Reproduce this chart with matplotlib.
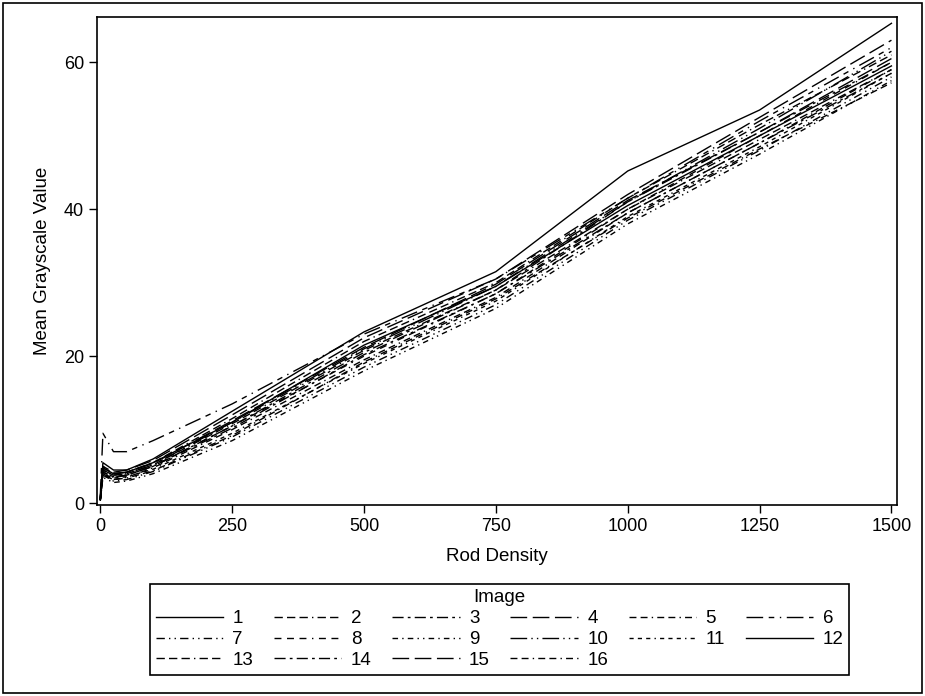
import matplotlib.pyplot as plt
import matplotlib.patches as mpatches

plt.rcParams['font.family'] = ['Liberation Sans', 'DejaVu Sans']

# rod density levels
density = [0, 5, 25, 50, 100, 250, 500, 750, 1000, 1250, 1500]

img1 = [0.5, 5.5, 4.5, 4.5, 6.0, 12.5, 23.3, 31.5, 45.2, 53.5, 65.3]
img2 = [0.8, 5.0, 4.0, 4.2, 5.5, 11.5, 22.0, 30.0, 41.5, 51.5, 61.0]
img3 = [0.5, 4.5, 3.5, 3.8, 5.0, 10.5, 20.5, 29.0, 41.0, 50.5, 60.0]
img4 = [0.6, 5.0, 4.2, 4.5, 5.8, 12.0, 22.5, 30.5, 42.0, 52.5, 63.0]
img5 = [0.4, 4.0, 3.2, 3.5, 4.8, 10.0, 19.5, 28.0, 39.5, 49.0, 59.0]
img6 = [1.0, 9.5, 7.0, 7.0, 8.5, 13.5, 23.0, 30.5, 41.5, 52.0, 62.0]
img7 = [0.4, 3.8, 3.0, 3.2, 4.3, 9.0, 18.5, 27.0, 38.5, 48.0, 58.0]
img8 = [0.5, 4.2, 3.5, 3.8, 5.0, 10.5, 20.0, 28.5, 40.0, 50.0, 60.0]
img9 = [0.3, 3.5, 2.8, 3.0, 4.0, 8.5, 18.0, 26.5, 38.0, 47.5, 57.5]
img10 = [0.5, 4.5, 3.8, 4.0, 5.2, 11.0, 21.0, 29.5, 41.0, 51.0, 61.5]
img11 = [0.4, 4.0, 3.4, 3.6, 4.6, 9.5, 19.0, 27.5, 39.0, 48.5, 58.5]
img12 = [0.5, 4.8, 4.0, 4.2, 5.5, 11.0, 21.5, 29.5, 40.5, 50.0, 59.5]
img13 = [0.5, 4.6, 3.8, 4.0, 5.2, 10.8, 20.8, 29.0, 40.0, 49.5, 59.0]
img14 = [0.4, 4.2, 3.6, 3.8, 5.0, 10.2, 20.2, 28.5, 39.5, 49.0, 58.5]
img15 = [0.5, 4.8, 4.0, 4.2, 5.4, 11.2, 21.2, 29.8, 41.2, 50.5, 60.5]
img16 = [0.4, 3.8, 3.2, 3.4, 4.4, 9.2, 19.2, 27.8, 38.8, 48.2, 57.2]

images = [img1, img2, img3, img4, img5, img6, img7, img8,
          img9, img10, img11, img12, img13, img14, img15, img16]
labels = [str(i) for i in range(1, 17)]

# SAS-like line pattern cycle
styles = ['-',
          (0, (6, 3, 6, 3, 6, 3, 1, 3)),
          (0, (8, 3, 2, 3)),
          (0, (12, 4)),
          (0, (5, 3, 5, 3, 1, 3)),
          (0, (12, 4, 4, 4, 1, 4)),
          (0, (6, 3, 1, 3, 1, 3)),
          (0, (5, 4, 5, 4, 5, 4, 1, 4)),
          (0, (4, 3, 1, 3, 4, 3, 1, 3, 1, 3)),
          (0, (12, 3, 1, 3, 1, 3)),
          (0, (3, 3, 3, 3, 3, 3, 1, 3)),
          '-',
          (0, (6, 3, 6, 3, 6, 3, 1, 3)),
          (0, (8, 3, 2, 3)),
          (0, (12, 4)),
          (0, (5, 3, 5, 3, 1, 3))]

fig = plt.figure(figsize=(9.25, 6.96), dpi=100)
ax = fig.add_axes([0.105, 0.274, 0.865, 0.702])

handles = []
for vals, lab, ls in zip(images, labels, styles):
    h, = ax.plot(density, vals, color='black', lw=1.0, linestyle=ls, label=lab)
    handles.append(h)

ax.set_xlim(-6, 1511)
ax.set_ylim(-0.3, 66.2)
ax.set_xticks([0, 250, 500, 750, 1000, 1250, 1500])
ax.set_yticks([0, 20, 40, 60])
ax.tick_params(labelsize=13, length=6, width=1)
ax.set_xlabel('Rod Density', fontsize=13.5, labelpad=9)
ax.set_ylabel('Mean Grayscale Value', fontsize=13.5, labelpad=9)
for s in ax.spines.values():
    s.set_linewidth(1.2)

# legend fills column by column, so reorder to read row by row
ncol = 6
order = []
for c in range(ncol):
    order += list(range(c, len(handles), ncol))
leg = fig.legend([handles[i] for i in order], [labels[i] for i in order],
                 loc='center', bbox_to_anchor=(0.54, 0.096), ncol=ncol,
                 title='Image', fontsize=13.5, title_fontsize=13.5,
                 handlelength=3.6, columnspacing=1.1, handletextpad=0.5,
                 labelspacing=0.2, borderpad=0.3, fancybox=False,
                 edgecolor='black', framealpha=1)
leg.get_frame().set_linewidth(1.2)

# outer border
fig.patches.append(mpatches.Rectangle((0.003, 0.004), 0.994, 0.992, transform=fig.transFigure,
                                      fill=False, edgecolor='black', lw=1.2))

fig.savefig('out.png', dpi=100)
